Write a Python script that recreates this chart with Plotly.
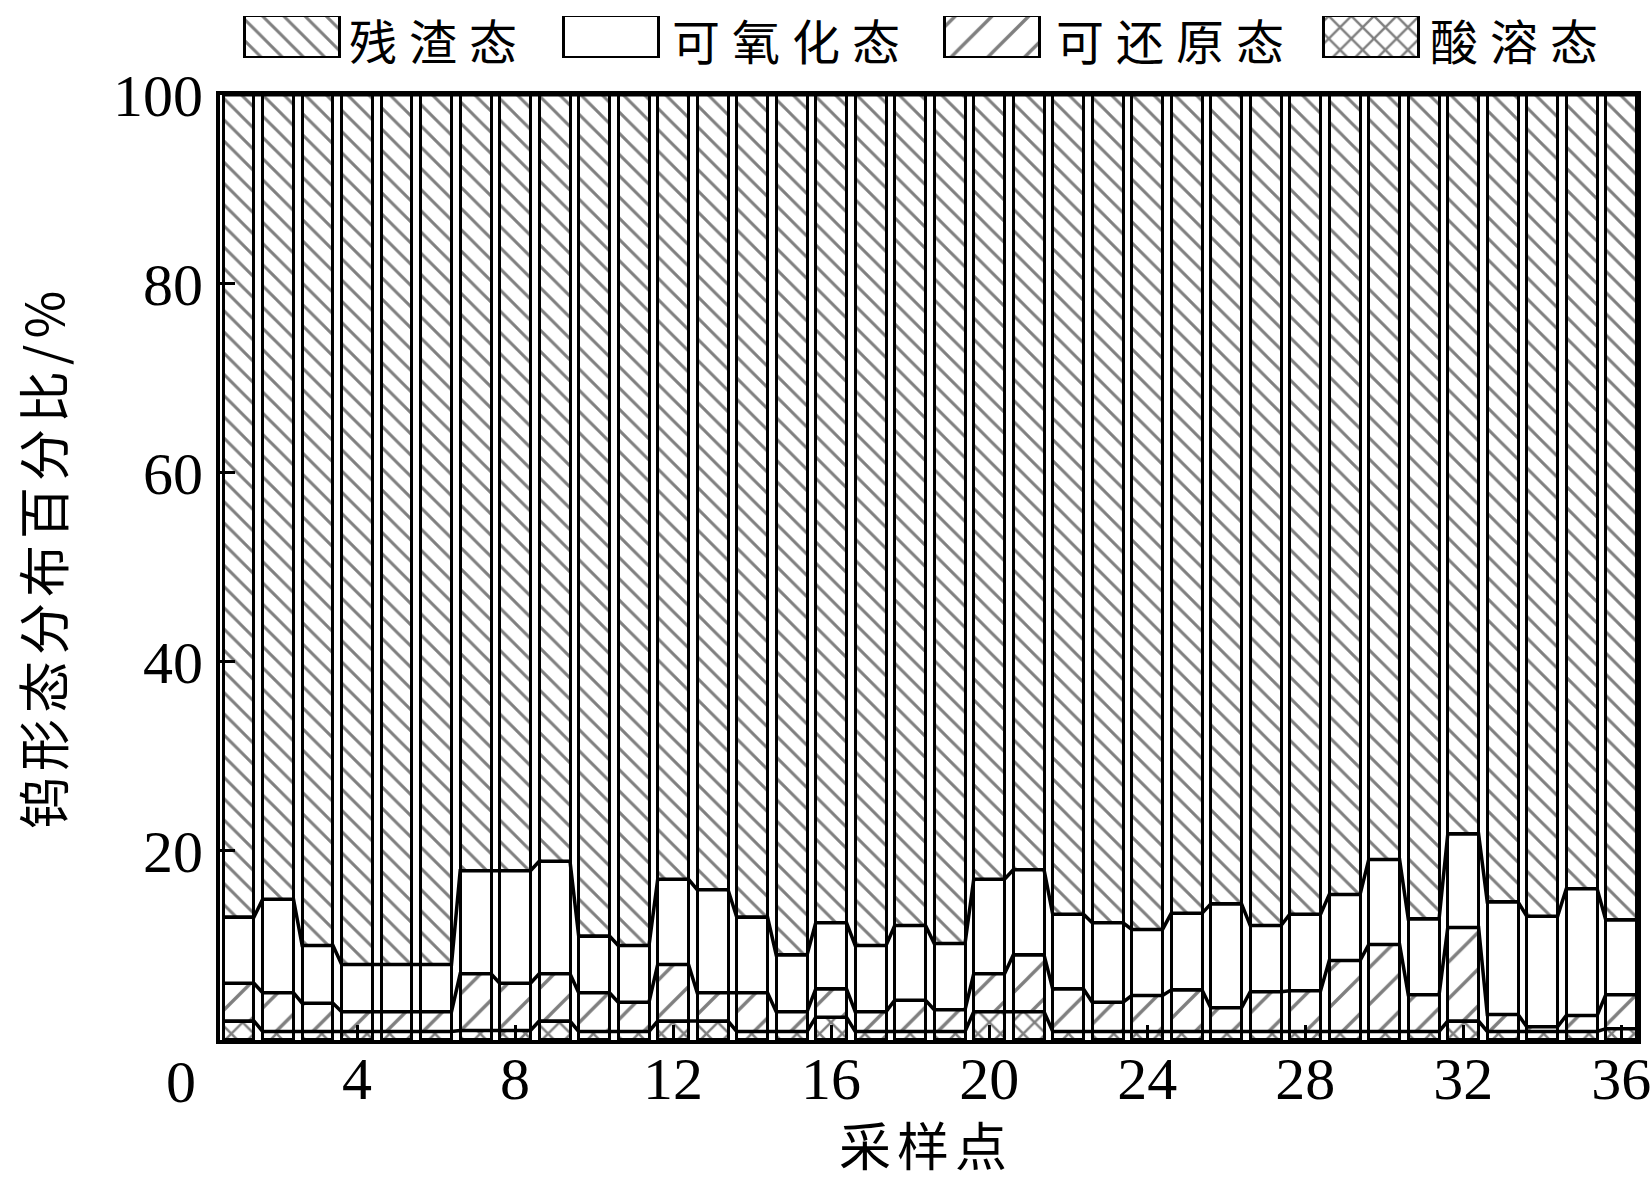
import numpy as np
import plotly.graph_objects as go

# sample points 1..36 (采样点)
SAMPLES = list(range(1, 37))
SERIES_NAMES = ["残渣态", "可氧化态", "可还原态", "酸溶态"]
X_TICKS = [4, 8, 12, 16, 20, 24, 28, 32, 36]
Y_TICKS = [0, 20, 40, 60, 80, 100]

# tungsten speciation shares, %
ACID = [2.0, 0.9, 0.9, 0.9, 0.9, 0.9, 1.0, 1.0, 2.0, 0.9, 0.9, 2.0,
        2.0, 0.9, 0.9, 2.4, 0.9, 0.9, 0.9, 3.0, 3.0, 0.9, 0.9, 0.9,
        0.9, 0.9, 0.9, 0.9, 0.9, 0.9, 0.9, 2.0, 0.9, 0.9, 0.9, 1.2]
REDUCIBLE = [4.0, 4.1, 3.0, 2.1, 2.1, 2.1, 6.0, 5.0, 5.0, 4.1, 3.1, 6.0,
             3.0, 4.1, 2.1, 3.0, 2.1, 3.3, 2.3, 4.0, 6.0, 4.5, 3.1, 3.8,
             4.4, 2.5, 4.2, 4.3, 7.5, 9.2, 3.9, 9.9, 1.8, 0.5, 1.7, 3.6]
OXIDIZABLE = [7.0, 9.9, 6.1, 5.0, 5.0, 5.0, 10.9, 11.9, 11.9, 6.0, 6.0, 9.0,
              10.9, 8.0, 6.0, 7.0, 7.0, 7.9, 7.0, 10.0, 9.0, 7.9, 8.4, 7.0,
              8.1, 11.0, 7.0, 8.1, 7.0, 9.0, 8.0, 9.9, 11.9, 11.7, 13.4, 7.9]
RESIDUAL = [87.0, 85.1, 90.0, 92.0, 92.0, 92.0, 82.1, 82.1, 81.1, 89.0, 90.0, 83.0,
            84.1, 87.0, 91.0, 87.6, 90.0, 87.9, 89.8, 83.0, 82.0, 86.7, 87.6, 88.3,
            86.6, 85.6, 87.9, 86.7, 84.6, 80.9, 87.2, 78.2, 85.4, 86.9, 84.0, 87.3]

NUM_FONT = "Liberation Serif, Times New Roman, serif"
CJK_FONT = "Noto Sans CJK SC"
BAR_WIDTH = 0.78

PATTERNS = {
    "残渣态": dict(shape="\\", size=15, solidity=0.2, fgcolor="black", bgcolor="white"),
    "可氧化态": dict(shape="", fgcolor="black", bgcolor="white"),
    "可还原态": dict(shape="/", size=26, solidity=0.13, fgcolor="black", bgcolor="white"),
    "酸溶态": dict(shape="x", size=16, solidity=0.28, fgcolor="black", bgcolor="white"),
}

values = {
    "酸溶态": ACID,
    "可还原态": REDUCIBLE,
    "可氧化态": OXIDIZABLE,
    "残渣态": RESIDUAL,
}
stack_order = ["酸溶态", "可还原态", "可氧化态", "残渣态"]


def spaced(text, px):
    return f'<span style="letter-spacing:{px}px">{text}</span>'


fig = go.Figure()

for name in stack_order:
    fig.add_trace(
        go.Bar(
            x=SAMPLES,
            y=values[name],
            name=name,
            width=BAR_WIDTH,
            marker=dict(
                color="white",
                line=dict(color="black", width=3),
                pattern=PATTERNS[name],
            ),
            showlegend=False,
        )
    )

# Origin-style connecting lines between the tops of each stacked layer
samples = np.array(SAMPLES, dtype=float)
cum = np.zeros(len(SAMPLES))
half = BAR_WIDTH / 2
for name in stack_order:
    cum = cum + np.array(values[name])
    xs = np.column_stack([samples - half, samples + half]).ravel()
    ys = np.repeat(cum, 2)
    fig.add_trace(
        go.Scatter(
            x=xs,
            y=ys,
            mode="lines",
            line=dict(color="black", width=3.5),
            hoverinfo="skip",
            showlegend=False,
        )
    )

# custom legend with big hatched boxes, drawn on an auxiliary axis
# (x2 runs in page pixels across the plot width)
legend_box_x = [291.5, 610.5, 991.5, 1371.0]
legend_text_x = [347, 670, 1054, 1428]
for name, bx in zip(SERIES_NAMES, legend_box_x):
    fig.add_trace(
        go.Bar(
            x=[bx],
            y=[1],
            width=95,
            xaxis="x2",
            yaxis="y2",
            marker=dict(
                color="white",
                line=dict(color="black", width=3),
                pattern=PATTERNS[name],
            ),
            hoverinfo="skip",
            showlegend=False,
        )
    )

annotations = []
for name, tx in zip(SERIES_NAMES, legend_text_x):
    annotations.append(
        dict(
            text=spaced(name, 12), x=tx, y=0.45, xref="x2", yref="y2",
            xanchor="left", yanchor="middle", showarrow=False,
            font=dict(family=CJK_FONT, size=48, color="black"),
        )
    )

annotations += [
    dict(
        text="0", x=-0.0275, y=-0.041, xref="paper", yref="paper",
        xanchor="center", yanchor="middle", showarrow=False,
        font=dict(family=NUM_FONT, size=60, color="black"),
    ),
    dict(
        text=spaced("钨形态分布百分比/%", 6), x=-0.1256, y=0.469,
        xref="paper", yref="paper",
        xanchor="center", yanchor="middle", textangle=-90, showarrow=False,
        font=dict(family=CJK_FONT, size=52, color="black"),
    ),
    dict(
        text=spaced("采样点", 6), x=0.498, y=-0.1, xref="paper", yref="paper",
        xanchor="center", yanchor="middle", showarrow=False,
        font=dict(family=CJK_FONT, size=52, color="black"),
    ),
]

fig.update_layout(
    width=1650,
    height=1187,
    margin=dict(l=220, r=13, t=10, b=147, autoexpand=False),
    paper_bgcolor="white",
    plot_bgcolor="white",
    barmode="stack",
    showlegend=False,
    annotations=annotations,
    xaxis=dict(
        range=[0.53, 36.4],
        tickvals=X_TICKS,
        ticks="inside",
        ticklen=15,
        tickwidth=3,
        tickcolor="black",
        showline=True,
        linewidth=4,
        linecolor="black",
        mirror=True,
        showgrid=False,
        zeroline=False,
        automargin=False,
        tickfont=dict(family=NUM_FONT, size=60, color="black"),
        ticklabelstandoff=-17,
        ticklabeloverflow="allow",
    ),
    yaxis=dict(
        domain=[0, 0.9178],
        range=[0, 100],
        tickvals=Y_TICKS,
        ticktext=["", "20", "40", "60", "80", "100"],
        ticks="inside",
        ticklen=15,
        tickwidth=3,
        tickcolor="black",
        showline=True,
        linewidth=4,
        linecolor="black",
        mirror=True,
        showgrid=False,
        zeroline=False,
        automargin=False,
        tickfont=dict(family=NUM_FONT, size=60, color="black"),
        ticklabelstandoff=1,
        ticklabeloverflow="allow",
    ),
    xaxis2=dict(
        domain=[0, 1], range=[220, 1637], anchor="y2",
        visible=False, fixedrange=True, automargin=False,
    ),
    yaxis2=dict(
        domain=[0.9534, 0.9942], range=[0, 1], anchor="x2",
        visible=False, fixedrange=True, automargin=False,
    ),
)

# drop the default 8 px body margin so the figure fills the window exactly
fig.write_html(
    "out.html",
    config={"displayModeBar": False},
    post_script="document.body.style.margin='0';document.body.style.overflow='hidden';",
)
